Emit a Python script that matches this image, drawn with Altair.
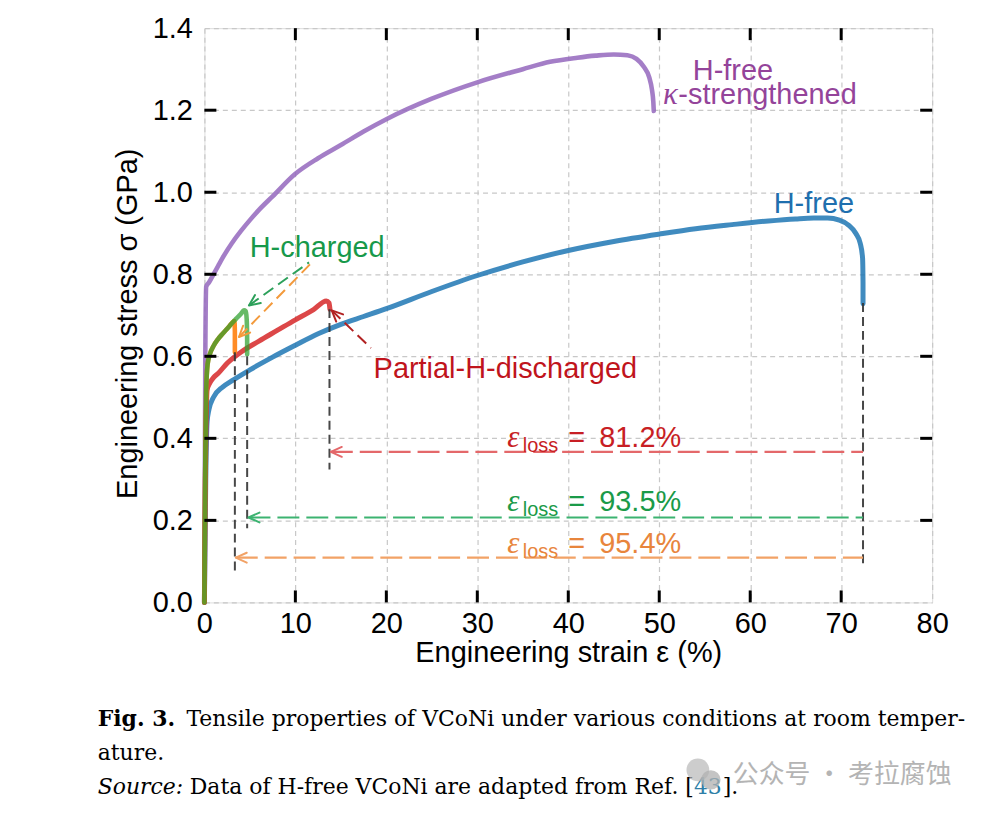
import math
import altair as alt
import pandas as pd

# ---------------- data ----------------
hfree_strain = [0, 0.15, 0.3, 0.5, 1, 2, 3, 5, 7.5, 10, 12.5, 15, 17.5, 20, 25, 30, 35, 40, 45,
                50, 54, 58, 62, 65, 67, 68.5, 69.8, 70.8, 71.6, 72.1, 72.35, 72.4, 72.4]
hfree_stress = [0, 0.30, 0.44, 0.47, 0.50, 0.525, 0.54, 0.567, 0.598, 0.627, 0.655, 0.678, 0.697,
                0.716, 0.758, 0.797, 0.830, 0.858, 0.880, 0.898, 0.911, 0.921, 0.930, 0.935, 0.937,
                0.937, 0.932, 0.920, 0.900, 0.875, 0.840, 0.780, 0.728]

kappa_strain = [0, 0.1, 0.2, 0.5, 1, 1.5, 2, 3, 4, 5, 6, 7.5, 10, 12.5, 15, 17.5, 20, 25, 30, 35,
                38, 41, 43, 45, 46.5, 47.5, 48.3, 48.9, 49.2, 49.35, 49.4]
kappa_stress = [0, 0.60, 0.77, 0.78, 0.80, 0.82, 0.84, 0.875, 0.905, 0.932, 0.957, 0.99, 1.045,
                1.083, 1.115, 1.148, 1.178, 1.228, 1.268, 1.300, 1.318, 1.328, 1.333, 1.336, 1.334,
                1.325, 1.306, 1.280, 1.250, 1.220, 1.198]

partial_strain = [0, 0.1, 0.2, 0.3, 0.6, 1, 1.5, 2.5, 4, 6, 8, 10, 12, 13.4, 13.7, 13.8]
partial_stress = [0, 0.30, 0.45, 0.518, 0.535, 0.548, 0.558, 0.583, 0.610, 0.637, 0.663, 0.689,
                  0.714, 0.735, 0.730, 0.715]

charged_g_strain = [0, 0.1, 0.2, 0.35, 0.6, 1, 1.5, 2, 2.5, 3, 3.5, 4, 4.35, 4.55, 4.65, 4.7, 4.7]
charged_g_stress = [0, 0.35, 0.52, 0.58, 0.605, 0.625, 0.642, 0.655, 0.667, 0.680, 0.692, 0.703,
                    0.712, 0.710, 0.690, 0.640, 0.605]

charged_o_strain = [0, 0.1, 0.2, 0.35, 0.6, 1, 1.5, 2, 2.5, 3, 3.3, 3.35, 3.35]
charged_o_stress = [0, 0.35, 0.52, 0.58, 0.605, 0.625, 0.642, 0.655, 0.667, 0.680, 0.686, 0.660, 0.610]

# fracture drop-lines (strain, top stress, bottom stress)
drop_x = [3.35, 4.7, 13.75, 72.4]
drop_top = [0.61, 0.60, 0.715, 0.73]
drop_bottom = [0.076, 0.181, 0.324, 0.086]

# strain-loss arrows
loss_values = ["81.2%", "93.5%", "95.4%"]
loss_y = [0.367, 0.207, 0.109]
loss_tip = [13.9, 4.85, 3.45]
loss_tail = [72.4, 72.4, 72.4]
loss_label_y = [0.380, 0.224, 0.121]

# pointer arrows (tail -> tip)
ptr_tail_x = [11.5, 11.6, 18.3]
ptr_tail_y = [0.829, 0.824, 0.620]
ptr_tip_x = [4.9, 3.8, 14.0]
ptr_tip_y = [0.724, 0.647, 0.712]

x_ticks = [0, 10, 20, 30, 40, 50, 60, 70, 80]
y_ticks = [0.0, 0.2, 0.4, 0.6, 0.8, 1.0, 1.2, 1.4]

# ---------------- layout / style ----------------
W, H = 730, 576
XMAX, YMAX = 80, 1.4
SANS = "Liberation Sans"
FS = 29

C_BLUE, C_PURPLE, C_RED, C_GREEN, C_ORANGE = "#1f77b4", "#9467bd", "#d62728", "#2ca02c", "#ff7f0e"

xsc = alt.Scale(domain=[0, XMAX], nice=False, zero=False)
ysc = alt.Scale(domain=[0, YMAX], nice=False, zero=False)

xaxis = alt.Axis(values=x_ticks, title="Engineering strain ε (%)", grid=True, gridDash=[5, 4],
                 gridColor="#c8c8c8", gridWidth=1.2, domain=False, ticks=False, tickSize=0,
                 labelFont=SANS, labelFontSize=FS, labelColor="black", labelPadding=7,
                 labelFlush=False, labelOverlap=False, labelBound=False,
                 titleFont=SANS, titleFontSize=FS, titleFontWeight="normal", titleColor="black",
                 titleY=59, titleBaseline="alphabetic")
yaxis = alt.Axis(values=y_ticks, format=".1f", title="Engineering stress σ (GPa)", grid=True,
                 gridDash=[5, 4], gridColor="#c8c8c8", gridWidth=1.2, domain=False, ticks=False,
                 tickSize=0, labelFont=SANS, labelFontSize=FS, labelColor="black", labelPadding=12,
                 labelFlush=False, labelOverlap=False, labelBound=False,
                 titleFont=SANS, titleFontSize=FS, titleFontWeight="normal", titleColor="black",
                 titleX=-68, titleY=296, titleAngle=270, titleBaseline="alphabetic")


def X(f):
    return alt.X(f, type="quantitative", scale=xsc, axis=xaxis)


def Y(f):
    return alt.Y(f, type="quantitative", scale=ysc, axis=yaxis)


def curve(strain, stress, color, width=5.0, opacity=0.85):
    df = pd.DataFrame({"strain": strain, "stress": stress, "i": range(len(strain))})
    return alt.Chart(df).mark_line(color=color, strokeWidth=width, opacity=opacity,
                                   strokeCap="round", strokeJoin="round",
                                   interpolate="monotone").encode(
        x=X("strain"), y=Y("stress"), order="i:Q")


layers = []
layers.append(curve(kappa_strain, kappa_stress, C_PURPLE, 4.6))
layers.append(curve(hfree_strain, hfree_stress, C_BLUE, 5.0))
layers.append(curve(partial_strain, partial_stress, C_RED, 5.0))
layers.append(curve(charged_o_strain, charged_o_stress, C_ORANGE, 4.6, 0.9))
layers.append(curve(charged_g_strain, charged_g_stress, C_GREEN, 4.6, 0.72))

# inward ticks on all four sides
xt = pd.DataFrame({"v": x_ticks[1:-1]})
yt = pd.DataFrame({"v": y_ticks[1:-1]})
layers.append(alt.Chart(xt).mark_rule(color="black", strokeWidth=3).encode(
    x=X("v"), y=alt.value(H), y2=alt.value(H - 12)))
layers.append(alt.Chart(xt).mark_rule(color="black", strokeWidth=3).encode(
    x=X("v"), y=alt.value(0), y2=alt.value(12)))
layers.append(alt.Chart(yt).mark_rule(color="black", strokeWidth=3).encode(
    y=Y("v"), x=alt.value(0), x2=alt.value(12)))
layers.append(alt.Chart(yt).mark_rule(color="black", strokeWidth=3).encode(
    y=Y("v"), x=alt.value(W), x2=alt.value(W - 12)))

# fracture drop lines
drops = pd.DataFrame({"x": drop_x, "y1": drop_top, "y2": drop_bottom})
layers.append(alt.Chart(drops).mark_rule(color="#333333", strokeWidth=2, strokeDash=[9, 5],
                                         opacity=0.9).encode(
    x=X("x"), y=Y("y1"), y2="y2:Q"))

# strain-loss arrows
loss_arrow_colors = ["#e4686a", "#3cb371", "#f2a266"]
la = pd.DataFrame({"tail": loss_tail, "tip": loss_tip, "y": loss_y, "c": loss_arrow_colors})
layers.append(alt.Chart(la).mark_rule(strokeWidth=2.2, strokeDash=[22, 7]).encode(
    x=X("tip"), x2="tail:Q", y=Y("y"), color=alt.Color("c:N", scale=None)))

# pointer arrows
xs, ys = W / XMAX, H / YMAX
ptr_colors = ["#2ca05a", "#f39a3c", "#b22222"]
angles = [math.degrees(math.atan2(-(ty - py) * ys, (tx - px) * xs)) % 360
          for tx, ty, px, py in zip(ptr_tail_x, ptr_tail_y, ptr_tip_x, ptr_tip_y)]
pa = pd.DataFrame({"tx": ptr_tail_x, "ty": ptr_tail_y, "px": ptr_tip_x, "py": ptr_tip_y,
                   "c": ptr_colors})
layers.append(alt.Chart(pa).mark_rule(strokeWidth=2, strokeDash=[12, 6]).encode(
    x=X("px"), x2="tx:Q", y=Y("py"), y2="ty:Q", color=alt.Color("c:N", scale=None)))

# arrow heads
heads = pd.DataFrame({
    "x": loss_tip + ptr_tip_x,
    "y": loss_y + ptr_tip_y,
    "c": loss_arrow_colors + ptr_colors,
    "ang": [0.0] * 3 + angles,
})
layers.append(alt.Chart(heads).mark_point(shape="M0,0L2,-0.9M0,0L2,0.9", filled=False, size=121,
                                          strokeWidth=2, opacity=1, strokeCap="round").encode(
    x=X("x"), y=Y("y"), color=alt.Color("c:N", scale=None),
    angle=alt.Angle("ang:Q", scale=None)))

# curve labels
BL = "alphabetic"
lab_c = pd.DataFrame({"t": ["H-free", "H-free", "H-charged"], "x": [58.1, 67.0, 12.4],
                      "y": [1.274, 0.950, 0.841], "c": ["#94449a", "#1f6fae", "#17994a"]})
layers.append(alt.Chart(lab_c).mark_text(font=SANS, fontSize=FS, align="center",
                                         baseline=BL).encode(
    x=X("x"), y=Y("y"), text="t:N", color=alt.Color("c:N", scale=None)))

lab_l = pd.DataFrame({"t": ["-strengthened", "Partial-H-discharged"] + ["="] * 3 + loss_values,
                      "x": [52.1, 18.6] + [40.0] * 3 + [43.4] * 3,
                      "y": [1.215, 0.547] + loss_label_y + loss_label_y,
                      "c": ["#94449a", "#c0141c"] + ["#c81e24", "#1a9a48", "#e8853c"] * 2})
layers.append(alt.Chart(lab_l).mark_text(font=SANS, fontSize=FS, align="left",
                                         baseline=BL).encode(
    x=X("x"), y=Y("y"), text="t:N", color=alt.Color("c:N", scale=None)))

lab_m = pd.DataFrame({"t": ["κ", "ε", "ε", "ε"], "x": [50.4, 33.3, 33.3, 33.3],
                      "y": [1.215] + loss_label_y,
                      "c": ["#94449a", "#c81e24", "#1a9a48", "#e8853c"]})
layers.append(alt.Chart(lab_m).mark_text(font="Liberation Serif", fontSize=31, fontStyle="italic",
                                         align="left", baseline=BL).encode(
    x=X("x"), y=Y("y"), text="t:N", color=alt.Color("c:N", scale=None)))

lab_s = pd.DataFrame({"t": ["loss"] * 3, "x": [35.0] * 3, "y": loss_label_y,
                      "c": ["#c81e24", "#1a9a48", "#e8853c"]})
layers.append(alt.Chart(lab_s).mark_text(font=SANS, fontSize=20, align="left", dy=5,
                                         baseline=BL).encode(
    x=X("x"), y=Y("y"), text="t:N", color=alt.Color("c:N", scale=None)))

# ---------------- caption (below the plot) ----------------
CAP = "DejaVu Serif"
CFS = 22
cap_rows = [
    ("Fig. 3.", -107, 700, "bold", "normal", "left", "black", CAP, CFS),
    ("Tensile properties of VCoNi under various conditions at room temper-", -18, 700,
     "normal", "normal", "left", "black", CAP, CFS),
    ("ature.", -107, 734, "normal", "normal", "left", "black", CAP, CFS),
    ("Source:", -107, 768, "normal", "italic", "left", "black", CAP, CFS),
    ("Data of H-free VCoNi are adapted from Ref. [", 491, 768, "normal", "normal", "right",
     "black", CAP, CFS),
    ("43", 491, 768, "normal", "normal", "left", "#2f7fa8", CAP, CFS),
    ("].", 520, 768, "normal", "normal", "left", "black", CAP, CFS),
    ("公众号 · 考拉腐蚀", 530, 757, "normal", "normal", "left", "#a8a8a8", "Noto Sans CJK SC", 26),
]
for t, px, py, fw, fst, al, col, fnt, fsz in cap_rows:
    layers.append(alt.Chart(pd.DataFrame({"t": [t]})).mark_text(
        font=fnt, fontSize=fsz, fontWeight=fw, fontStyle=fst, align=al, color=col,
        baseline=BL, opacity=0.85 if fnt.startswith("Noto") else 1).encode(
        x=alt.value(px), y=alt.value(py), text="t:N"))

# watermark icon (two bubbles)
layers.append(alt.Chart(pd.DataFrame({"k": [0]})).mark_point(
    shape="circle", filled=True, color="#b8b8b8", opacity=0.7, size=520).encode(
    x=alt.value(495), y=alt.value(744)))
layers.append(alt.Chart(pd.DataFrame({"k": [0]})).mark_point(
    shape="circle", filled=True, color="#b0b0b0", opacity=0.75, size=380).encode(
    x=alt.value(508), y=alt.value(754)))

chart = alt.layer(*layers).properties(
    width=W, height=H,
    autosize=alt.AutoSizeParams(type="none"),
    padding={"left": 197, "top": 19, "right": 50, "bottom": 205},
).configure_view(stroke="black", strokeWidth=4).configure(background="white")

chart.save("out.html", embed_options={"renderer": "svg", "actions": False})
